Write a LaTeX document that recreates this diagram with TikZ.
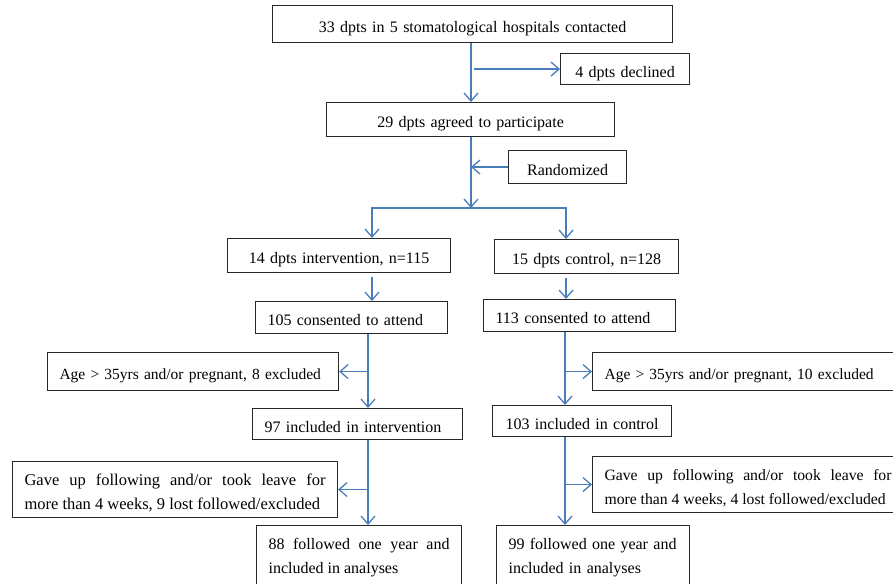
\documentclass[tikz,border=0pt]{standalone}
\usepackage{fontspec}
\setmainfont{Liberation Serif}
\usetikzlibrary{arrows.meta}
\definecolor{lineblue}{RGB}{74,126,187}
\definecolor{boxline}{RGB}{40,40,40}
\begin{document}
\begin{tikzpicture}[x=1pt,y=-1pt,
  box/.style={draw=boxline, line width=1.1pt, rectangle, anchor=north west,
    inner xsep=12pt, inner ysep=0pt, font=\fontsize{16}{24}\selectfont},
  one/.style={text height=20pt, text depth=4pt},
  two/.style={text height=24pt, text depth=32pt},
  arr/.style={draw=lineblue, line width=1.6pt,
    -{Straight Barb[length=8pt,width=14pt,line width=1.3pt]}}]
\useasboundingbox (0,0) rectangle (893,583);
\clip (0,0) rectangle (893,583);
\fill[white] (0,0) rectangle (893,583);
% boxes
\node[box, one, minimum width=400pt, minimum height=37pt, text width=376pt, align=center] (top) at (272,5) {33 dpts in 5 stomatological hospitals contacted};
\node[box, one, minimum width=129pt, minimum height=31pt, text width=105pt, align=center] (decl) at (560,53) {4 dpts declined};
\node[box, one, minimum width=288pt, minimum height=34pt, text width=264pt, align=center] (agree) at (326,102) {29 dpts agreed to participate};
\node[box, one, minimum width=118pt, minimum height=33pt, text width=94pt, align=center] (rand) at (508,150) {Randomized};
\node[box, one, minimum width=223pt, minimum height=34pt, text width=199pt, align=center] (int) at (227,238) {14 dpts intervention, n=115};
\node[box, one, minimum width=184pt, minimum height=34pt, text width=160pt, align=center] (ctl) at (494,239) {15 dpts control, n=128};
\node[box, one, minimum width=192pt, minimum height=32pt, text width=168pt, align=left] (cons1) at (255,301) {105 consented to attend};
\node[box, one, minimum width=192pt, minimum height=32pt, text width=168pt, align=left] (cons2) at (483,299) {113 consented to attend};
\node[box, one, minimum width=291pt, minimum height=38pt, text width=267pt, align=left, font=\fontsize{15.5}{23}\selectfont] (age1) at (47,352) {Age > 35yrs and/or pregnant, 8 excluded};
\node[box, one, minimum width=320pt, minimum height=38pt, text width=296pt, align=left, font=\fontsize{15.5}{23}\selectfont] (age2) at (592,352) {Age > 35yrs and/or pregnant, 10 excluded};
\node[box, one, minimum width=210pt, minimum height=31pt, text width=186pt, align=left] (inc1) at (252,408) {97 included in intervention};
\node[box, one, minimum width=179pt, minimum height=31pt, text width=155pt, align=center] (inc2) at (492,405) {103 included in control};
\node[box, two, minimum width=325pt, minimum height=56pt, text width=301pt, align=justify, font=\fontsize{16.5}{24}\selectfont] (gave1) at (12,461) {Gave up following and/or took leave for\linebreak more than 4 weeks, 9 lost followed/excluded};
\node[box, two, minimum width=311pt, minimum height=56pt, text width=287pt, align=justify, font=\fontsize{15.7}{24}\selectfont] (gave2) at (592,456) {Gave up following and/or took leave for\linebreak more than 4 weeks, 4 lost followed/excluded};
\node[box, inner ysep=13pt, text width=181pt, align=justify] (fol1) at (256,525) {88 followed one year and\linebreak included in analyses};
\node[box, inner ysep=13pt, text width=169pt, align=left] (fol2) at (496,525) {99 followed one year and\\included in analyses};
% column coordinates
\coordinate (cM) at (471,0);
\coordinate (xL) at (372,0);
\coordinate (xR) at (566,0);
\coordinate (cL) at (368,0);
\coordinate (cR) at (565,0);
\coordinate (sp) at (471,208);
% connectors
\draw[arr] (top.south -| cM) -- (agree.north -| cM);
\draw[arr, shorten <=3pt] (decl.west -| cM) -- (decl.west);
\draw[arr] (agree.south -| cM) -- (sp);
\draw[arr] (rand.west) -- (rand.west -| cM);
\draw[arr] (sp) -| (int.north -| xL);
\draw[arr] (sp) -| (ctl.north -| xR);
\draw[arr, shorten <=4pt] (int.south -| xL) -- (cons1.north -| xL);
\draw[arr, shorten <=4pt] (ctl.south -| xR) -- (cons2.north -| xR);
\draw[arr] (cons1.south -| cL) -- (inc1.north -| cL);
\draw[arr] (age1.east -| cL) -- (age1.east);
\draw[arr] (inc1.south -| cL) -- (fol1.north -| cL);
\draw[arr] (gave1.east -| cL) -- (gave1.east);
\draw[arr] (cons2.south -| cR) -- (inc2.north -| cR);
\draw[arr] (age2.west -| cR) -- (age2.west);
\draw[arr] (inc2.south -| cR) -- (fol2.north -| cR);
\draw[arr] (gave2.west -| cR) -- (gave2.west);
\end{tikzpicture}
\end{document}
